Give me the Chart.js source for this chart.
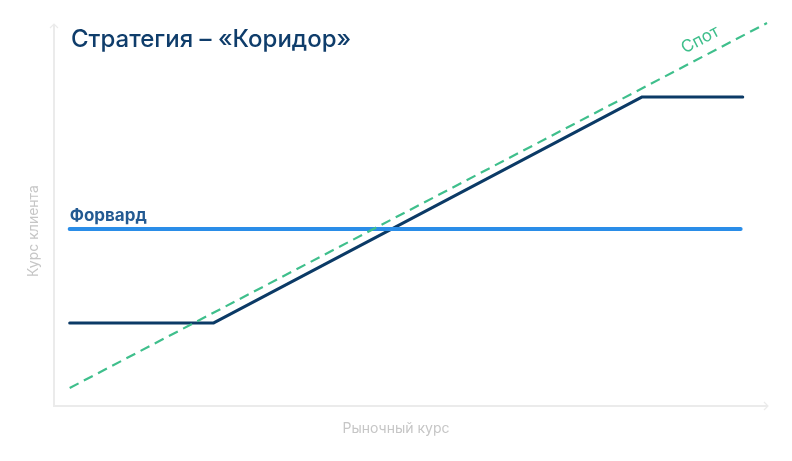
<!DOCTYPE html>
<html>
<head>
<meta charset="utf-8">
<script src="https://cdn.jsdelivr.net/npm/chart.js@4/dist/chart.umd.min.js"></script>
<style>
  html, body { margin: 0; padding: 0; background: #fff; }
  #wrap { width: 792px; height: 461px; position: relative; }
</style>
</head>
<body>
<div id="wrap"><canvas id="corridorChart"></canvas></div>
<script>
// ===== DATA =====
const title      = 'Стратегия – «Коридор»';
const xTitle     = 'Рыночный курс';
const yTitle     = 'Курс клиента';

// коридор: фиксированный курс снизу и сверху
const corridorX  = [2.2, 22.4, 82.5, 96.6];
const corridorY  = [21.7, 21.7, 80.7, 80.7];

// спот
const spotX      = [2.2, 100];
const spotY      = [4.7, 100];

// форвард
const forwardX   = [2.2, 96.3];
const forwardY   = [46.2, 46.2];

const toPoints = (xs, ys) => xs.map((x, i) => ({ x, y: ys[i] }));

const C_NAVY    = '#0b3a66';
const C_FORWARD = '#2a8de8';
const C_SPOT    = '#3fbf8c';
const C_AXIS    = '#ebebeb';
const C_MUTED   = '#c6c6c6';
const FONT      = 'Inter, "Open Sans", sans-serif';

// ===== PLUGIN: оси, стрелки, подписи =====
const decor = {
  id: 'decor',
  beforeDatasetsDraw(chart) {
    const { ctx, chartArea: a } = chart;
    ctx.save();
    ctx.strokeStyle = C_AXIS;
    ctx.lineWidth = 2;
    ctx.beginPath();
    ctx.moveTo(a.left, a.top + 1);
    ctx.lineTo(a.left, a.bottom);
    ctx.lineTo(a.right + 1, a.bottom);
    ctx.stroke();
    // стрелки
    ctx.lineWidth = 1.2;
    ctx.beginPath();
    ctx.moveTo(a.left - 4, a.top + 5);
    ctx.lineTo(a.left, a.top + 1);
    ctx.lineTo(a.left + 4, a.top + 5);
    ctx.moveTo(a.right - 3, a.bottom - 4);
    ctx.lineTo(a.right + 1, a.bottom);
    ctx.lineTo(a.right - 3, a.bottom + 4);
    ctx.stroke();
    ctx.restore();
  },
  afterDatasetsDraw(chart) {
    const { ctx, chartArea: a, scales } = chart;
    const xs = scales.x, ys = scales.y;
    ctx.save();

    // заголовок
    ctx.fillStyle = '#0f3d6b';
    ctx.font = '500 24px ' + FONT;
    ctx.textBaseline = 'alphabetic';
    ctx.textAlign = 'left';
    ctx.fillText(title, 71, 47);

    // Форвард
    ctx.fillStyle = '#235a92';
    ctx.font = 'bold 17px ' + FONT;
    ctx.fillText('Форвард', xs.getPixelForValue(forwardX[0]), ys.getPixelForValue(forwardY[0]) - 8);

    // подписи осей
    ctx.fillStyle = C_MUTED;
    ctx.font = '14px ' + FONT;
    ctx.textAlign = 'center';
    ctx.fillText(xTitle, 396, a.bottom + 27);
    ctx.save();
    ctx.translate(a.left - 16, 231);
    ctx.rotate(-Math.PI / 2);
    ctx.fillText(yTitle, 0, 0);
    ctx.restore();

    // Спот вдоль линии
    const px0 = xs.getPixelForValue(spotX[0]), py0 = ys.getPixelForValue(spotY[0]);
    const px1 = xs.getPixelForValue(spotX[1]), py1 = ys.getPixelForValue(spotY[1]);
    const ang = Math.atan2(py1 - py0, px1 - px0);
    const t = 0.915;
    const lx = px0 + (px1 - px0) * t, ly = py0 + (py1 - py0) * t;
    ctx.translate(lx, ly);
    ctx.rotate(ang);
    ctx.fillStyle = C_SPOT;
    ctx.font = '17px ' + FONT;
    ctx.textAlign = 'center';
    ctx.fillText('Спот', 0, -11);
    ctx.restore();
  }
};

new Chart(document.getElementById('corridorChart'), {
  type: 'line',
  data: {
    datasets: [
      {
        label: 'Спот',
        data: toPoints(spotX, spotY),
        borderColor: C_SPOT,
        borderWidth: 2.2,
        borderDash: [10, 6],
        pointRadius: 0
      },
      {
        label: 'Форвард',
        data: toPoints(forwardX, forwardY),
        borderColor: C_FORWARD,
        borderWidth: 4,
        borderCapStyle: 'round',
        pointRadius: 0
      },
      {
        label: 'Коридор',
        data: toPoints(corridorX, corridorY),
        borderColor: C_NAVY,
        borderWidth: 3,
        borderCapStyle: 'round',
        borderJoinStyle: 'round',
        pointRadius: 0
      }
    ]
  },
  options: {
    responsive: true,
    maintainAspectRatio: false,
    animation: false,
    clip: false,
    layout: { padding: { left: 54, right: 25, top: 23, bottom: 55 } },
    plugins: {
      legend: { display: false },
      tooltip: { enabled: false }
    },
    scales: {
      x: { type: 'linear', min: 0, max: 100, display: false },
      y: { type: 'linear', min: 0, max: 100, display: false }
    }
  },
  plugins: [decor]
});
</script>
</body>
</html>
